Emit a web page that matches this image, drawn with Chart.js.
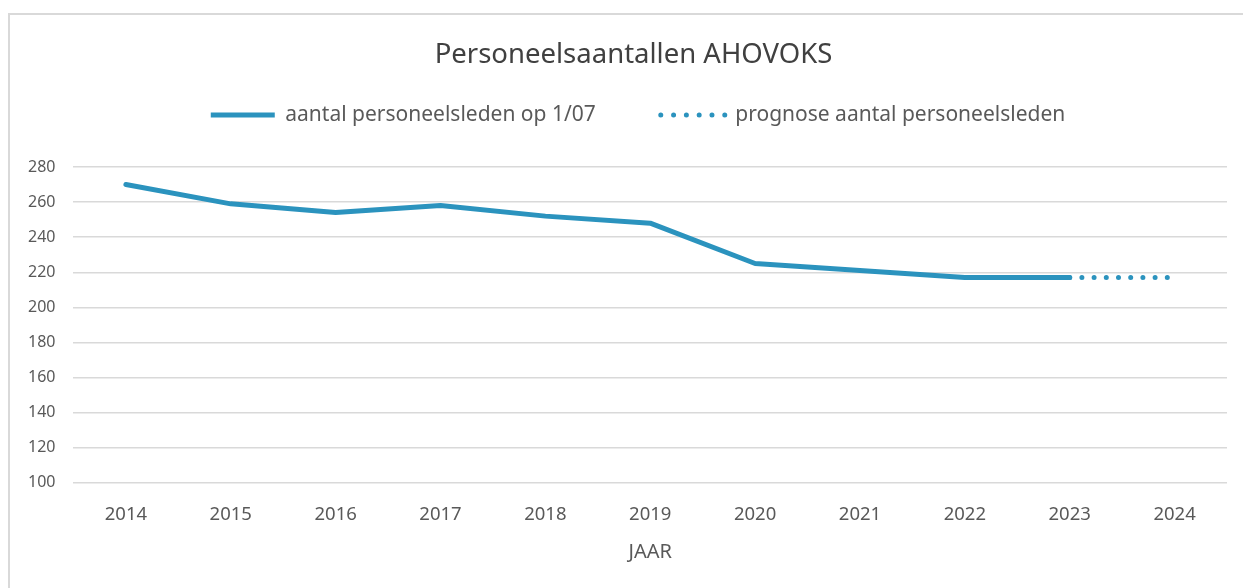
<!DOCTYPE html>
<html>
<head>
<meta charset="utf-8">
<script src="https://cdn.jsdelivr.net/npm/chart.js@4"></script>
<style>
  html, body { margin: 0; padding: 0; background: #fff; }
  #wrap { position: relative; width: 1243px; height: 588px; overflow: hidden; }
  #frame { position: absolute; left: 8px; top: 13px; width: 1300px; height: 700px;
           border-left: 2px solid #d9d9d9; border-top: 2px solid #d9d9d9; }
  #chart { position: absolute; left: 0; top: 0; }
</style>
</head>
<body>
<div id="wrap">
  <div id="frame"></div>
  <canvas id="chart" width="1243" height="588"></canvas>
</div>
<script>
  // values
  const years = ['2014', '2015', '2016', '2017', '2018', '2019', '2020', '2021', '2022', '2023', '2024'];
  const staffCount = [270, 259, 254, 258, 252, 248, 225, 221, 217, 217, null];
  const staffForecast = [null, null, null, null, null, null, null, null, null, 217, 217];
  const yTicks = [100, 120, 140, 160, 180, 200, 220, 240, 260, 280];

  const blue = '#2b93be';
  const textGrey = '#595959';
  const fontFamily = '"Noto Sans", "Open Sans", sans-serif';

  // title + legend sit a bit right of the plot centre in the original, legend also higher
  const headerShift = { titleX: 15, legendX: 19.5, legendY: -31.5 };
  const nudgeHeader = {
    id: 'nudgeHeader',
    afterLayout: function (chart) {
      const t = chart.titleBlock;
      if (t) { t.left += headerShift.titleX; t.right += headerShift.titleX; }
      const l = chart.legend;
      if (l) {
        l.left += headerShift.legendX; l.right += headerShift.legendX;
        l.top += headerShift.legendY; l.bottom += headerShift.legendY;
      }
    }
  };

  const canvas = document.getElementById('chart');
  canvas.style.width = '1243px';
  canvas.style.height = '588px';

  new Chart(canvas.getContext('2d'), {
    type: 'line',
    data: {
      labels: years,
      datasets: [
        {
          label: 'aantal personeelsleden op 1/07',
          data: staffCount,
          borderColor: blue,
          borderWidth: 5,
          borderCapStyle: 'round',
          borderJoinStyle: 'round',
          pointRadius: 0,
          tension: 0,
          fill: false
        },
        {
          label: 'prognose aantal personeelsleden',
          data: staffForecast,
          borderColor: blue,
          borderWidth: 5,
          borderCapStyle: 'round',
          borderDash: [0, 12.2],
          pointRadius: 0,
          tension: 0,
          fill: false
        }
      ]
    },
    plugins: [nudgeHeader],
    options: {
      responsive: false,
      animation: false,
      devicePixelRatio: 1,
      layout: { padding: { left: 10, right: 16, top: 0, bottom: 24 } },
      plugins: {
        title: {
          display: true,
          text: 'Personeelsaantallen AHOVOKS',
          color: '#404040',
          font: { family: fontFamily, size: 27.5, weight: 'normal' },
          padding: { top: 38.5, bottom: -0.5 }
        },
        legend: {
          display: true,
          position: 'top',
          labels: {
            color: textGrey,
            font: { family: fontFamily, size: 21 },
            boxWidth: 64,
            boxHeight: 0,
            padding: 65,
            generateLabels: function (chart) {
              return chart.data.datasets.map(function (ds, i) {
                return {
                  text: ds.label,
                  datasetIndex: i,
                  fillStyle: 'rgba(0,0,0,0)',
                  strokeStyle: ds.borderColor,
                  lineWidth: 5,
                  lineCap: 'round',
                  lineDash: ds.borderDash ? [0, 12.8] : [],
                  fontColor: textGrey,
                  hidden: false
                };
              });
            }
          }
        },
        tooltip: { enabled: false }
      },
      scales: {
        x: {
          offset: true,
          grid: { display: false, drawTicks: false },
          border: { display: false },
          ticks: {
            color: textGrey,
            font: { family: fontFamily, size: 18.5 },
            padding: 21,
            maxRotation: 0
          },
          title: {
            display: true,
            text: 'JAAR',
            color: textGrey,
            font: { family: fontFamily, size: 20 },
            padding: { top: -7, bottom: 0 }
          }
        },
        y: {
          min: yTicks[0],
          max: yTicks[yTicks.length - 1],
          afterBuildTicks: function (axis) {
            axis.ticks = yTicks.map(function (v) { return { value: v }; });
          },
          grid: { color: '#d9d9d9', lineWidth: 1.5, drawTicks: false },
          border: { display: false },
          ticks: {
            color: textGrey,
            font: { family: fontFamily, size: 16 },
            padding: 18
          }
        }
      }
    }
  });
</script>
</body>
</html>
